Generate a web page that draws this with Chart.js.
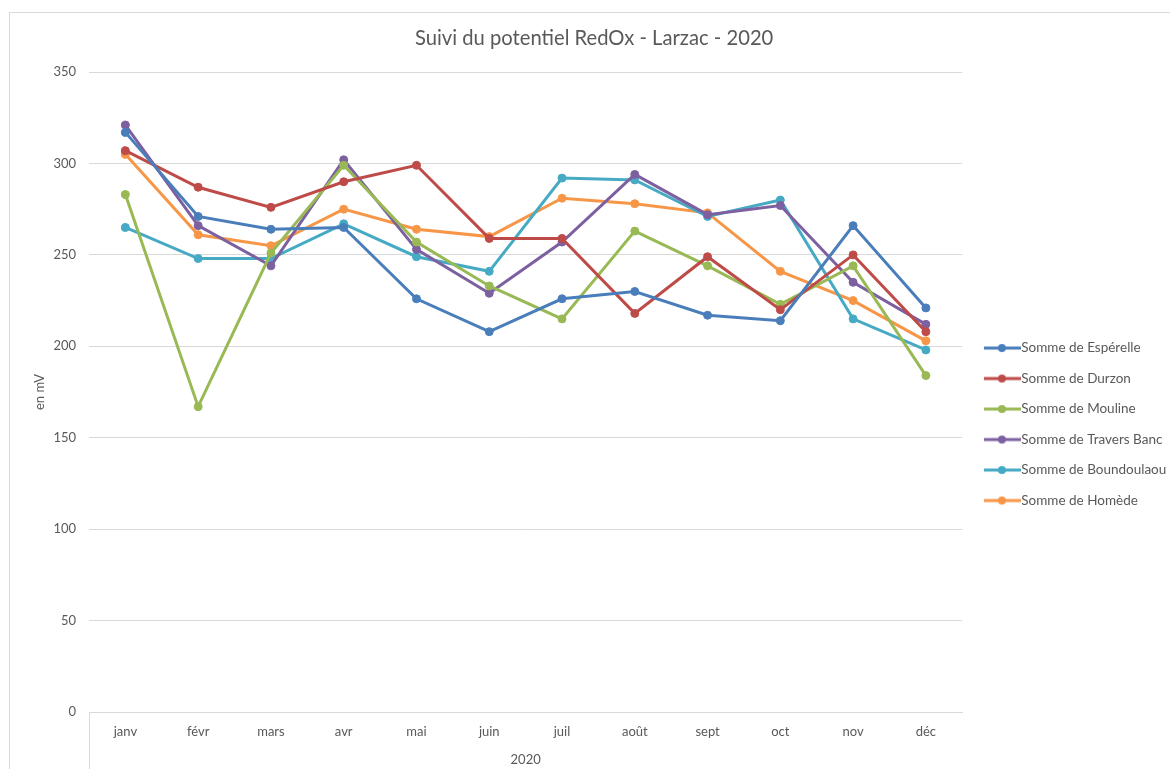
<!DOCTYPE html>
<html>
<head>
<meta charset="utf-8">
<script src="https://cdn.jsdelivr.net/npm/chart.js@4"></script>
<style>
  body { margin: 0; background: #fff; }
  #wrap { position: relative; width: 1170px; height: 769px; overflow: hidden; }
</style>
</head>
<body>
<div id="wrap"><canvas id="chartLine"></canvas></div>
<script>
const months = ["janv", "févr", "mars", "avr", "mai", "juin", "juil", "août", "sept", "oct", "nov", "déc"];
const yearLabel = "2020";

const esperelle = [317, 271, 264, 265, 226, 208, 226, 230, 217, 214, 266, 221];
const durzon = [307, 287, 276, 290, 299, 259, 259, 218, 249, 220, 250, 208];
const mouline = [283, 167, 251, 299, 257, 233, 215, 263, 244, 223, 244, 184];
const traversBanc = [321, 266, 244, 302, 253, 229, 257, 294, 272, 277, 235, 212];
const boundoulaou = [265, 248, 248, 267, 249, 241, 292, 291, 271, 280, 215, 198];
const homede = [305, 261, 255, 275, 264, 260, 281, 278, 273, 241, 225, 203];

const seriesNames = [
  "Somme de Espérelle",
  "Somme de Durzon",
  "Somme de Mouline",
  "Somme de Travers Banc",
  "Somme de Boundoulaou",
  "Somme de Homède",
];
const seriesValues = [esperelle, durzon, mouline, traversBanc, boundoulaou, homede];
const seriesColors = ["#4a7ebb", "#be4b48", "#98b954", "#7d60a0", "#46aac5", "#f79646"];

const FONT = "Lato, 'Open Sans', sans-serif";
const GRID = "#d9d9d9";
const TEXT = "#595959";

// little line + dot marker for the legend, like Excel
function legendMarker(color) {
  const c = document.createElement("canvas");
  c.width = 48;
  c.height = 14;
  const g = c.getContext("2d");
  g.strokeStyle = color;
  g.lineWidth = 3;
  g.beginPath();
  g.moveTo(11, 7);
  g.lineTo(48, 7);
  g.stroke();
  g.fillStyle = color;
  g.beginPath();
  g.arc(29, 7, 4, 0, Math.PI * 2);
  g.fill();
  return c;
}

const data = {
  labels: months,
  datasets: seriesNames.map((name, i) => ({
    label: name,
    data: seriesValues[i],
    borderColor: seriesColors[i],
    backgroundColor: seriesColors[i],
    pointBackgroundColor: seriesColors[i],
    pointBorderColor: seriesColors[i],
    borderWidth: 3,
    pointRadius: 4,
    pointBorderWidth: 1,
    pointStyle: "circle",
    tension: 0,
  })),
};

const chartFrame = {
  id: "chartFrame",
  beforeDraw(chart) {
    const ctx = chart.ctx;
    ctx.save();
    ctx.strokeStyle = GRID;
    ctx.lineWidth = 1;
    ctx.strokeRect(9.5, 12.5, 1200, 800);
    ctx.restore();
  },
};

const configLineChart = {
  type: "line",
  data,
  plugins: [chartFrame],
  options: {
    responsive: true,
    maintainAspectRatio: false,
    animation: false,
    layout: { padding: { left: 12, right: -6.3, top: 12, bottom: 0 } },
    scales: {
      x: {
        offset: true,
        grid: {
          offset: true,
          drawOnChartArea: false,
          drawTicks: true,
          tickLength: 57,
          tickWidth: 1,
          tickColor: (c) => (c.index === 0 || c.index === months.length ? GRID : "rgba(0,0,0,0)"),
        },
        border: { display: true, color: GRID, width: 1 },
        ticks: { color: TEXT, font: { family: FONT, size: 13 }, padding: -45, maxRotation: 0 },
        title: {
          display: true,
          text: yearLabel,
          color: TEXT,
          font: { family: FONT, size: 13 },
          padding: { top: 0, bottom: 1 },
        },
        afterFit: (scale) => {
          scale.height = 57;
        },
      },
      y: {
        min: 0,
        max: 350,
        ticks: { stepSize: 50, color: TEXT, font: { family: FONT, size: 13 }, padding: 13 },
        grid: { color: GRID, lineWidth: 1, drawTicks: false },
        border: { display: false },
        title: {
          display: true,
          text: "en mV",
          color: TEXT,
          font: { family: FONT, size: 13 },
          padding: { top: 20, bottom: 0 },
        },
        afterFit: (scale) => {
          scale.width = 77;
        },
      },
    },
    plugins: {
      title: {
        display: true,
        text: "Suivi du potentiel RedOx - Larzac - 2020",
        color: TEXT,
        font: { family: FONT, size: 20.2, weight: "normal" },
        padding: { top: 13.9, bottom: 21.9 },
      },
      legend: {
        position: "right",
        align: "center",
        fullSize: false,
        title: { display: true, text: " ", font: { family: FONT, size: 13 }, padding: { top: 48.9, bottom: 0 } },
        labels: {
          usePointStyle: true,
          pointStyleWidth: 35.25,
          padding: 17,
          color: TEXT,
          font: { family: FONT, size: 13.5 },
          generateLabels: (chart) =>
            chart.data.datasets.map((ds, i) => ({
              text: ds.label,
              fillStyle: ds.borderColor,
              strokeStyle: ds.borderColor,
              fontColor: TEXT,
              lineWidth: 0,
              pointStyle: legendMarker(ds.borderColor),
              hidden: !chart.isDatasetVisible(i),
              datasetIndex: i,
            })),
        },
      },
      tooltip: { enabled: false },
    },
  },
};

var chartLine = new Chart(document.getElementById("chartLine"), configLineChart);
</script>
</body>
</html>
